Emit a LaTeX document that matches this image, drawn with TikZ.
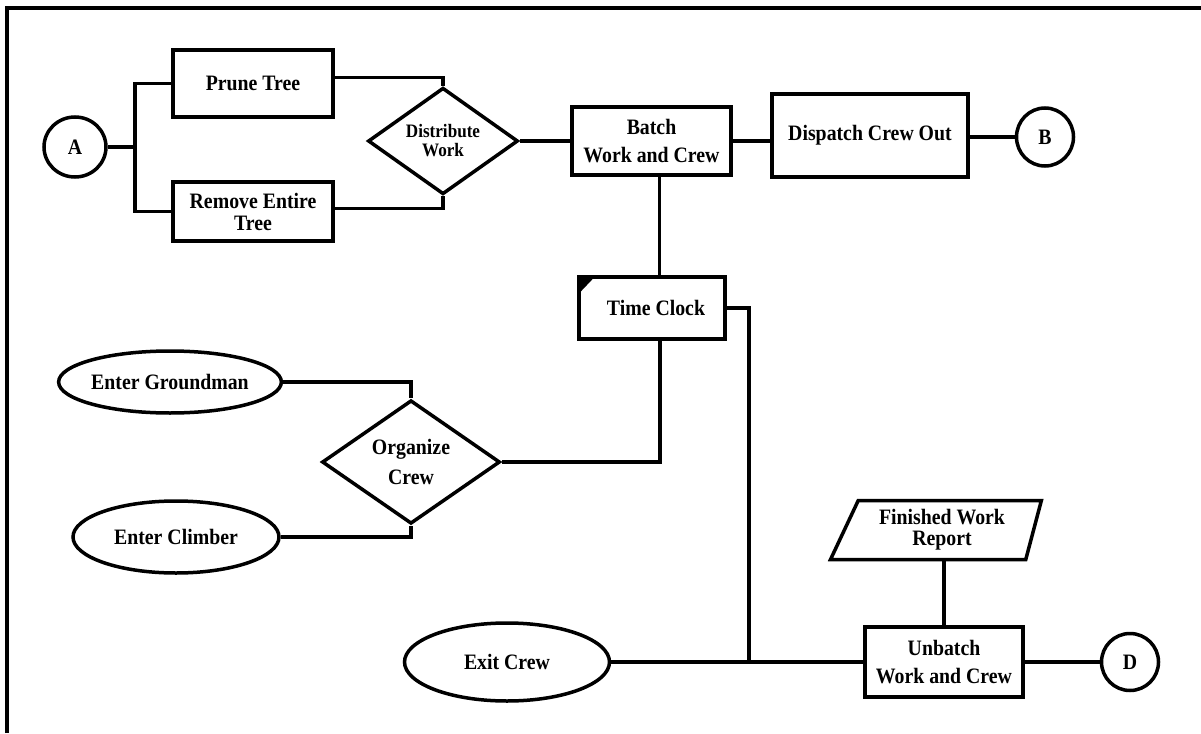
\documentclass[tikz,border=0pt]{standalone}
\usepackage{fontspec}
\setmainfont{Liberation Serif}[FakeStretch=0.9]
\usetikzlibrary{calc}
\usetikzlibrary{shapes.geometric}
\tikzset{
	every node/.style={font=\fontsize{22}{22}\selectfont\bfseries, align=center, inner sep=0pt},
	conn/.style={line width=3.5pt},
	box/.style={draw, line width=3.5pt, rectangle},
	decision/.style={draw, line width=3.5pt, diamond},
	terminal/.style={draw, line width=3.5pt, ellipse},
	report/.style={draw, line width=3.5pt, trapezium, trapezium left angle=63, trapezium right angle=106, trapezium stretches=true},
}

\begin{document}
\begin{tikzpicture}[x=1pt,y=-1pt]
		\useasboundingbox (0,0) rectangle (1201,733);
		\draw[conn] (7,733) -- (7,8) -- (1201,8);
		% work orders
		\node[terminal, minimum width=62, minimum height=60] (A) at (75,147) {A};
		\node[box, minimum width=160, minimum height=67] (prune) at (253,83.5) {Prune Tree};
		\node[box, minimum width=160, minimum height=59] (remove) at (253,211.5) {Remove Entire\\Tree};
		\node[decision, minimum width=150, minimum height=88, font=\fontsize{19}{19}\selectfont\bfseries] (dist) at (443,141) {Distribute\\Work};
		\node[box, minimum width=159, minimum height=68] (batch) at (651.5,141) {Batch\\[6pt]Work and Crew};
		\node[box, minimum width=196, minimum height=83] (disp) at (870,135.5) {Dispatch Crew Out};
		\node[terminal, minimum width=57, minimum height=58] (B) at (1045,137) {B};
		\coordinate (jA) at (135,147);
		\draw[conn] (A) -- (jA);
		\draw[conn] (prune.west) -| (jA) |- (remove.west);
		\draw[conn] ([yshift=6pt]prune.east) -| (dist.north);
		\draw[conn] ([yshift=3pt]remove.east) -| (dist.south);
		\draw[conn] (dist.east) -- (batch.west);
		\draw[conn] (batch.east) -- (batch.east -| disp.west);
		\draw[conn] (B.west -| disp.east) -- (B.west);
		% crew
		\node[box, minimum width=146, minimum height=62] (tc) at (652,308) {\hspace*{8pt}Time Clock};
		\fill (tc.north west) -- ++(19,0) -- ($(tc.north west)+(0,20)$) -- cycle;
		\node[terminal, minimum width=209, minimum height=62] (grd) at (170,382) {Enter Groundman};
		\node[decision, minimum width=178, minimum height=105] (org) at (411,462) {Organize\\[8pt]Crew};
		\node[terminal, minimum width=206, minimum height=72] (clb) at (176,537) {Enter Climber};
		\draw[conn] ([xshift=8pt]batch.south) -- ([xshift=8pt]batch.south |- tc.north);
		\draw[conn] (grd.east) -| (org.north);
		\draw[conn] (clb.east) -| (org.south);
		\draw[conn] ([xshift=8pt]tc.south) |- (org.east);
		% return
		\node[terminal, minimum width=205, minimum height=78] (exit) at (507,662) {Exit Crew};
		\node[box, minimum width=158, minimum height=70] (unb) at (944,662) {Unbatch\\[6pt]Work and Crew};
		\node[terminal, minimum width=57, minimum height=57] (D) at (1130,662) {D};
		\node[report, minimum width=211, minimum height=59, font=\fontsize{22}{21}\selectfont\bfseries] (rep) at (942,530) {Finished Work\\Report};
		\coordinate (jE) at (749,662);
		\draw[conn] (tc.east) -| (jE);
		\draw[conn] (exit) -- (unb);
		\draw[conn] (unb) -- (D);
		\draw[conn] (unb.north) -- (unb.north |- rep.south);
	\end{tikzpicture}
\end{document}
